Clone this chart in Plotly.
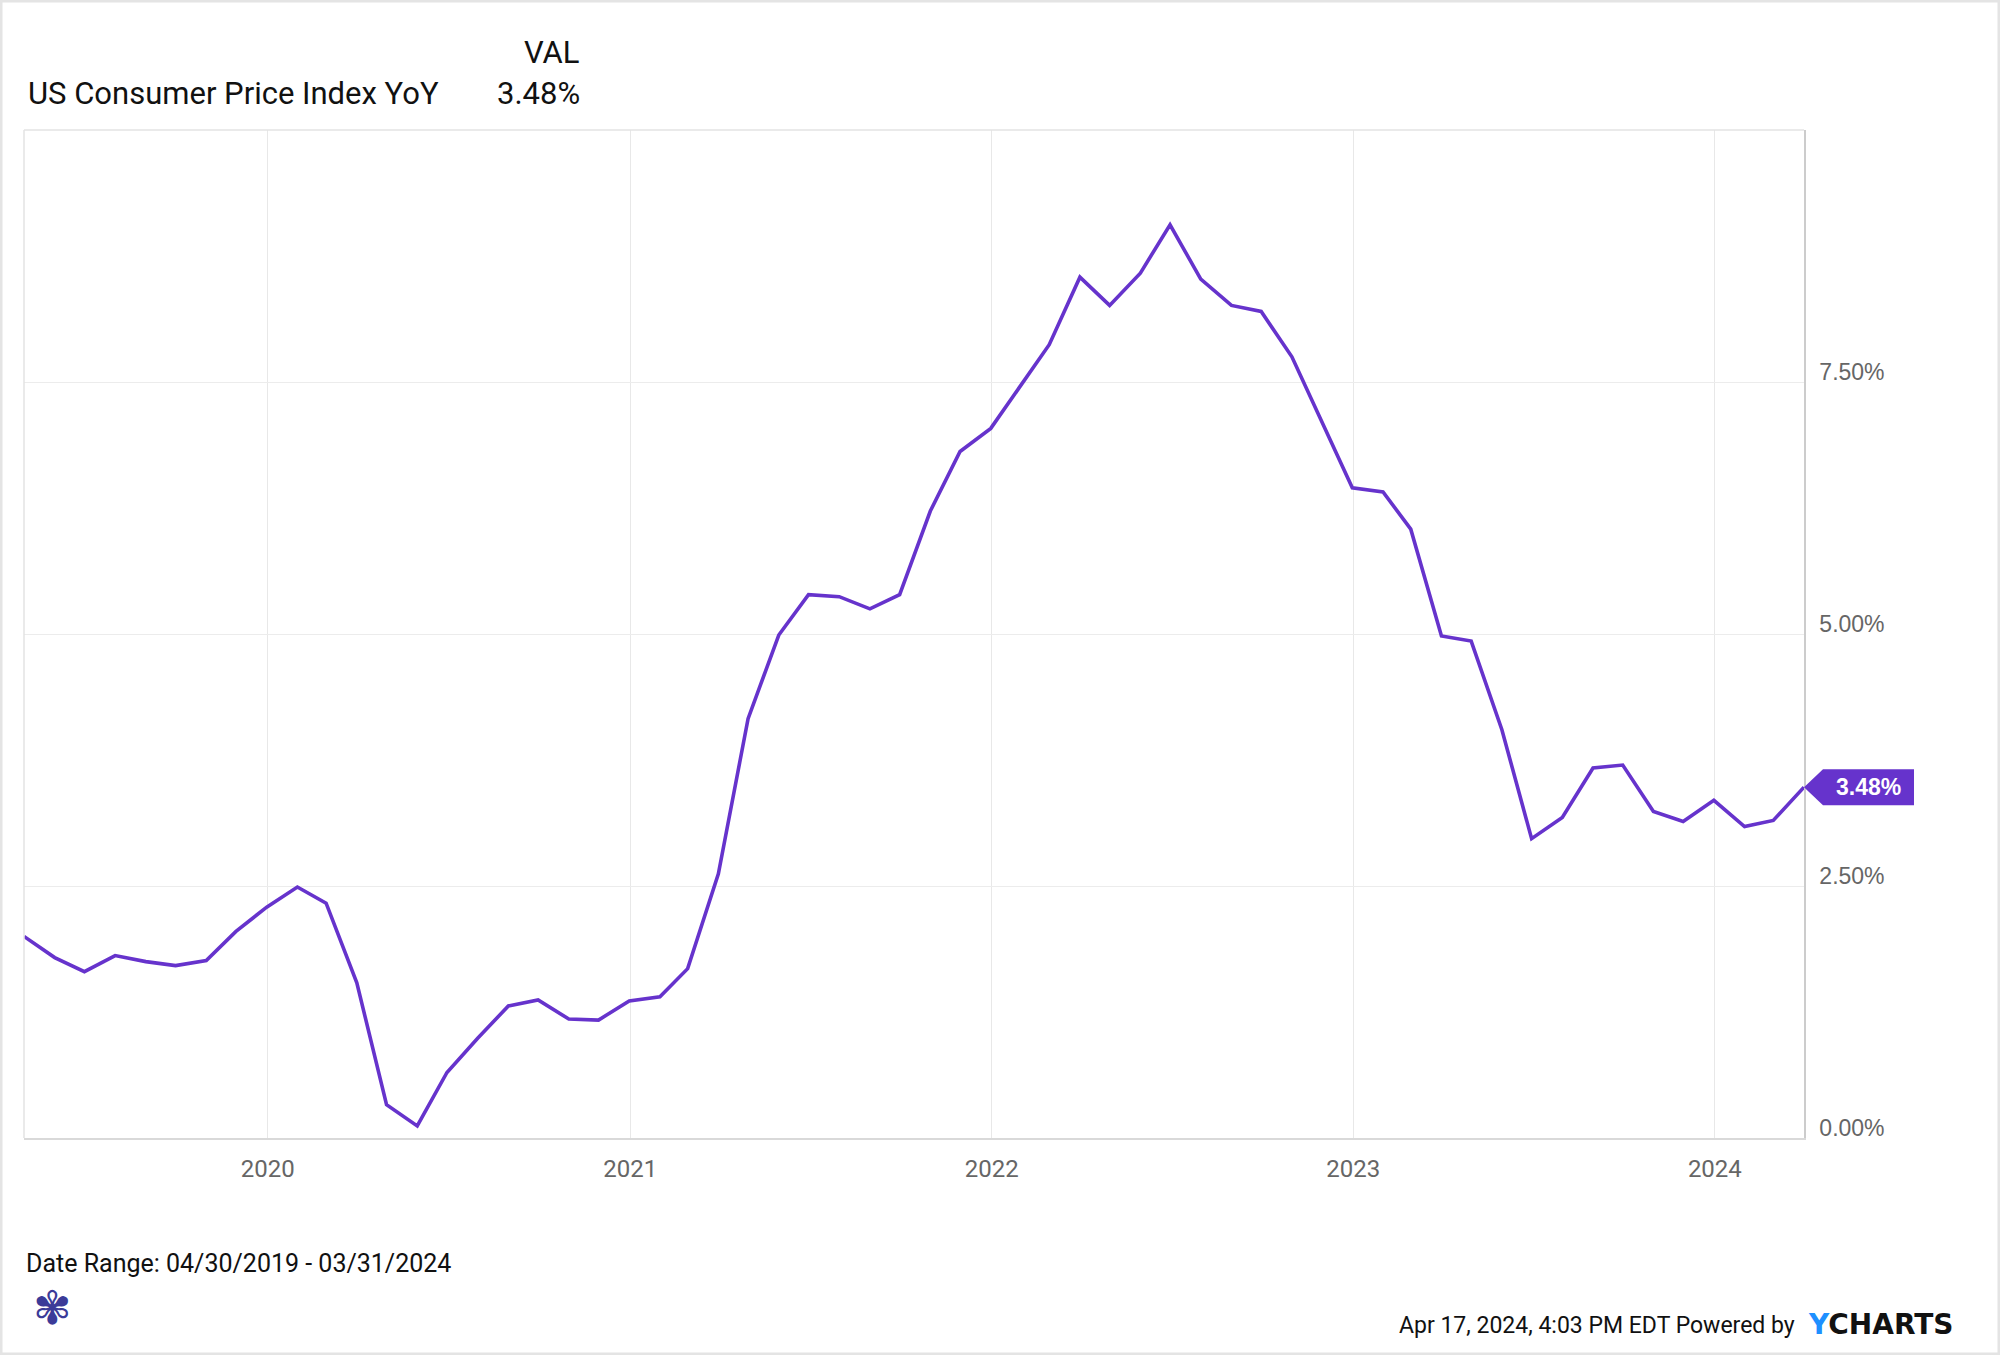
import pandas as pd
import plotly.graph_objects as go

# ---------------- data ----------------
series_name = "US Consumer Price Index YoY"
dates = pd.date_range("2019-04-30", "2024-03-31", freq="ME")
cpi_yoy = [
    2.00, 1.79, 1.65, 1.81, 1.75, 1.71, 1.76, 2.05, 2.29,              # 2019 Apr-Dec
    2.49, 2.33, 1.54, 0.33, 0.12, 0.65, 0.99, 1.31, 1.37, 1.18, 1.17, 1.36,  # 2020
    1.40, 1.68, 2.62, 4.16, 4.99, 5.39, 5.37, 5.25, 5.39, 6.22, 6.81, 7.04,  # 2021
    7.48, 7.87, 8.54, 8.26, 8.58, 9.06, 8.52, 8.26, 8.20, 7.75, 7.11, 6.45,  # 2022
    6.41, 6.04, 4.98, 4.93, 4.05, 2.97, 3.18, 3.67, 3.70, 3.24, 3.14, 3.35,  # 2023
    3.09, 3.15, 3.48,                                                   # 2024 Jan-Mar
]
y_tickvals = [0, 2.5, 5, 7.5, 10]
y_ticktext = ["0.00%", "2.50%", "5.00%", "7.50%", ""]
date_range_text = "Date Range: 04/30/2019 - 03/31/2024"
footer_text = "Apr 17, 2024, 4:03 PM EDT Powered by"

# ---------------- layout constants ----------------
W, H = 2000, 1355
L, R, T, B = 24, 196, 130, 217
PW, PH = W - L - R, H - T - B
PURPLE = "#6633cc"


def px_x(px):
    return (px - L) / PW


def px_y(py):
    return (H - B - py) / PH


last_val = cpi_yoy[-1]
last_txt = f"{last_val:.2f}%"

fig = go.Figure()
fig.add_trace(go.Scatter(
    x=dates, y=cpi_yoy, mode="lines",
    line=dict(color=PURPLE, width=3.6),
    hoverinfo="x+y", showlegend=False,
))

fig.update_layout(
    width=W, height=H,
    margin=dict(l=L, r=R, t=T, b=B),
    paper_bgcolor="white", plot_bgcolor="white",
    showlegend=False,
    xaxis=dict(
        type="date",
        range=[dates[0], dates[-1]],
        tick0="2020-01-01", dtick="M12", tickformat="%Y",
        showgrid=True, gridcolor="#e8e8e8", gridwidth=1,
        showline=True, linecolor="#d9d9d9", linewidth=2,
        ticks="", ticklabelstandoff=8,
        tickfont=dict(family="Roboto", size=24, color="#666666"),
        zeroline=False, fixedrange=True,
    ),
    yaxis=dict(
        side="right", range=[0, 10],
        tickvals=y_tickvals, ticktext=y_ticktext,
        showgrid=True, gridcolor="#ececec", gridwidth=1,
        showline=True, linecolor="#cccccc", linewidth=1.5,
        ticks="", ticklabelstandoff=9, ticklabelshift=-10,
        tickfont=dict(family="Liberation Sans", size=23, color="#666666"),
        zeroline=False, fixedrange=True,
    ),
)

shapes = [
    # left & top plot borders
    dict(type="line", xref="paper", yref="paper", x0=0, x1=0, y0=0, y1=1,
         line=dict(color="#e3e3e3", width=1.5)),
    dict(type="line", xref="paper", yref="paper", x0=0, x1=1, y0=1, y1=1,
         line=dict(color="#e3e3e3", width=1.5)),
    # outer frame
    dict(type="rect", xref="paper", yref="paper",
         x0=px_x(0), x1=px_x(W), y0=px_y(H), y1=px_y(0),
         line=dict(color="#e4e4e4", width=5), layer="below"),
    # last-value badge
    dict(type="path", xref="paper", yref="y",
         xsizemode="pixel", ysizemode="pixel", xanchor=1, yanchor=last_val,
         path="M 0 0 L 19 18 L 110 18 L 110 -18 L 19 -18 Z",
         fillcolor=PURPLE, line=dict(width=0)),
]
fig.update_layout(shapes=shapes)

ann = [
    dict(text="VAL", x=px_x(582), y=px_y(52), xanchor="right", yanchor="middle",
         font=dict(family="Roboto", size=31, color="#111111")),
    dict(text=series_name, x=px_x(26), y=px_y(94), xanchor="left", yanchor="middle",
         font=dict(family="Roboto", size=31, color="#111111")),
    dict(text=last_txt, x=px_x(582), y=px_y(94), xanchor="right", yanchor="middle",
         font=dict(family="Roboto", size=31, color="#111111")),
    dict(text=f"<b>{last_txt}</b>", x=1, y=last_val, xref="paper", yref="y",
         xanchor="center", yanchor="middle", xshift=64,
         font=dict(family="Liberation Sans", size=23, color="white")),
    dict(text=date_range_text, x=px_x(24), y=px_y(1263), xanchor="left", yanchor="middle",
         font=dict(family="Roboto", size=25, color="#111111")),
    dict(text="\u273E", x=px_x(52), y=px_y(1308), xanchor="center", yanchor="middle",
         font=dict(family="DejaVu Sans", size=46, color="#3b3b98")),
    dict(text=footer_text, x=px_x(1797), y=px_y(1325), xanchor="right", yanchor="middle",
         font=dict(family="Roboto", size=23, color="#111111")),
    dict(text="<span style='color:#1e90ff'>Y</span>CHARTS", x=px_x(1806), y=px_y(1324),
         xanchor="left", yanchor="middle",
         font=dict(family="DejaVu Sans", size=28, color="#111111", weight="bold")),
]
for a in ann:
    a.setdefault("xref", "paper")
    a.setdefault("yref", "paper")
    a["showarrow"] = False
fig.update_layout(annotations=ann)

fig.write_html("out.html", config={"displayModeBar": False},
               post_script="document.body.style.margin='0px';")
